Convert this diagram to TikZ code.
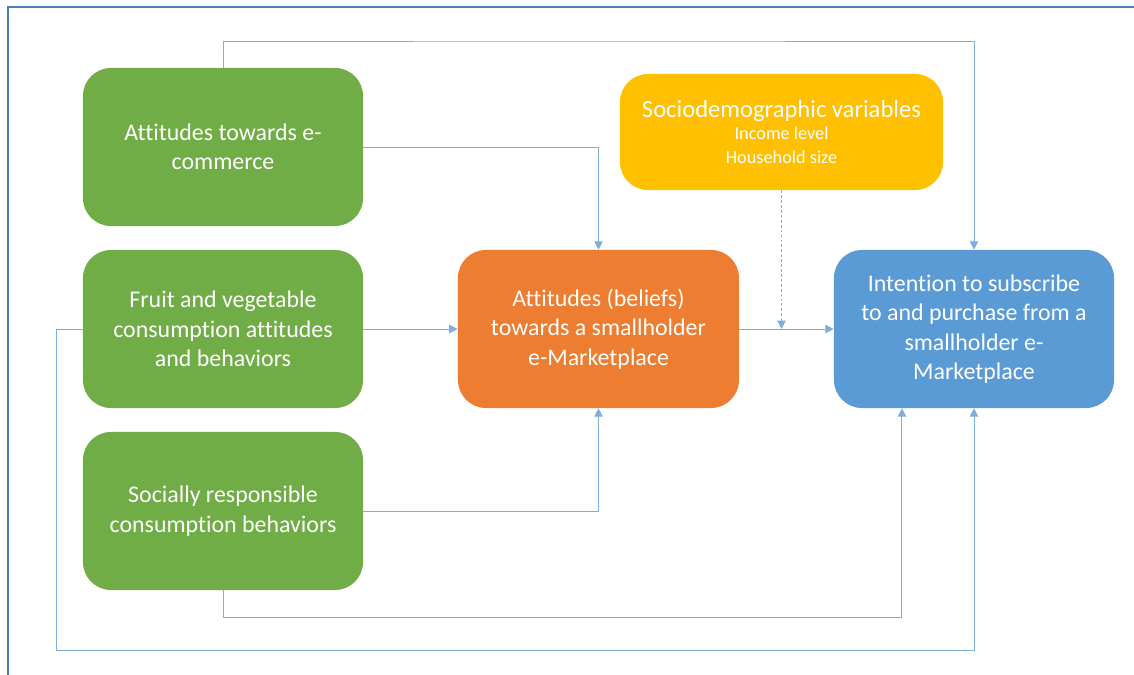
\documentclass[tikz,border=0pt]{standalone}
\usepackage{fontspec}
\setmainfont{Carlito}[Ligatures=NoCommon]
\usetikzlibrary{arrows.meta}

\definecolor{boxgreen}{HTML}{70AD47}
\definecolor{boxorange}{HTML}{ED7D31}
\definecolor{boxyellow}{HTML}{FFC000}
\definecolor{boxblue}{HTML}{5B9BD5}
\definecolor{linkblue}{HTML}{7EAEDE}
\definecolor{frameblue}{HTML}{4A7EBB}

\begin{document}
\begin{tikzpicture}[x=0.025cm,y=-0.025cm,
    box/.style={rounded corners=0.7cm, text=white, align=center,
        minimum width=7cm, minimum height=3.95cm, inner sep=2pt,
        font=\fontsize{17}{21}\selectfont},
    link/.style={linkblue, line width=0.7pt, -{Triangle[length=6pt,width=6pt]}}]
        \useasboundingbox (0,0) rectangle (1134,675);
        \draw[frameblue, line width=1pt] (8,675) -- (8,7) -- (1134,7);

        % predictors
        \node[box, fill=boxgreen] (ecom) at (223,147) {Attitudes towards e-\\commerce};
        \node[box, fill=boxgreen] (fv) at (223,329) {Fruit and vegetable\\consumption attitudes\\and behaviors};
        \node[box, fill=boxgreen] (srcb) at (223,511) {Socially responsible\\consumption behaviors};
        % mediator, outcome, controls
        \node[box, fill=boxorange, minimum width=7.025cm] (belief) at (598.5,329) {Attitudes (beliefs)\\towards a smallholder\\e-Marketplace};
        \node[box, fill=boxblue] (intent) at (974,329) {Intention to subscribe\\to and purchase from a\\smallholder e-\\Marketplace};
        \node[box, fill=boxyellow, minimum width=8.075cm, minimum height=2.9cm] (socio) at (781.5,132)
            {\fontsize{17.5}{21}\selectfont Sociodemographic variables\\[-5pt]{\fontsize{13}{15.5}\selectfont Income level}\\[-4pt]{\fontsize{13}{15.5}\selectfont Household size}};

        \coordinate (top) at (600,41);
        \coordinate (low) at (56,650);

        \draw[link] (ecom.north) |- (top) -| (intent.north);
        \draw[link] (ecom.east) -| (belief.north);
        \draw[link] (fv.east) -- (belief.west);
        \draw[link] (belief.east) -- (intent.west);
        \draw[link, dash pattern=on 2pt off 1.5pt] (socio.south) -- (socio.south |- belief.east);
        \draw[link] (srcb.east) -| (belief.south);
        \draw[link] (srcb.south) -- ++(0,27) -| ([xshift=-1.8cm]intent.south);
        \draw[link] (fv.west) -| (low) -| (intent.south);
    \end{tikzpicture}
\end{document}
